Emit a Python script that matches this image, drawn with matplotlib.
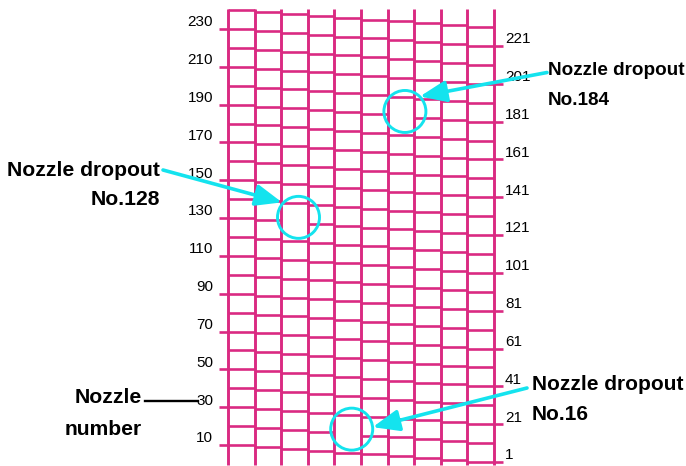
"""Nozzle check pattern with three dropped nozzles circled."""
import numpy as np

import matplotlib
matplotlib.use("Agg")
import matplotlib.pyplot as plt  # noqa: E402
from matplotlib.lines import Line2D  # noqa: E402
from matplotlib.patches import Ellipse  # noqa: E402

PINK, CYAN = "#DA2A82", "#14E3EE"
W, H = 686, 466

# 240 nozzles printed in 10 staggered columns
nozzles = np.arange(1, 241)
n_columns = 10
dropouts = [16, 128, 184]
left_ticks = [10, 30, 50, 70, 90, 110, 130, 150, 170, 190, 210, 230]
right_ticks = [1, 21, 41, 61, 81, 101, 121, 141, 161, 181, 201, 221]

# layout: pixels per column / per nozzle, where column 0 starts, nozzle 10 row
DX, DY = 26.6, 1.891
X0, Y10 = 228, 445

plt.rcParams["font.family"] = ["Liberation Sans", "DejaVu Sans"]

fig = plt.figure(figsize=(W / 100, H / 100), dpi=100)
ax = fig.add_axes([0, 0, 1, 1])
ax.set_xlim(-X0 / DX, (W - X0) / DX)
ax.set_ylim(10 - (H - Y10) / DY, 10 + Y10 / DY)
ax.axis("off")

# pattern
col = (-nozzles) % n_columns
printed = ~np.isin(nozzles, dropouts)
ax.vlines(np.arange(n_columns + 1), nozzles.min() - 1.5, nozzles.max() + 0.8,
          color=PINK, lw=2.1)
ax.hlines(nozzles[printed], col[printed], col[printed] + 1, color=PINK, lw=1.9)

# axis ticks and labels
tick = 9 / DX
ax.hlines(left_ticks, -tick, 0, color=PINK, lw=1.9)
ax.hlines(right_ticks, n_columns, n_columns + tick, color=PINK, lw=1.9)
for n in left_ticks:
    ax.text(-15 / DX, n + 1.4, str(n), ha="right", va="baseline", fontsize=11)
for n in right_ticks:
    ax.text(n_columns + 11 / DX, n + 1.4, str(n), ha="left", va="baseline",
            fontsize=11)

# circles, arrows and callouts (pixel offsets / positions)
R = 21
tip_offset = {184: (15, -15), 128: (-16.5, -15), 16: (21, -2)}
tail = {184: (547, 72.5), 128: (163, 170), 16: (527, 388)}
callout = {184: (548, "left", 75, 105, 13.6), 128: (160, "right", 176, 205, 15.2),
           16: (532, "left", 390, 420, 15.0)}
for n in dropouts:
    cx = (-n) % n_columns + 0.5 + 4 / DX
    cy = n + 4.5 / DY
    ax.add_patch(Ellipse((cx, cy), 2 * R / DX, 2 * R / DY, fill=False,
                         ec=CYAN, lw=2.1, zorder=4))
    ox, oy = tip_offset[n]
    ax.annotate("", xy=(cx + ox / DX, cy - oy / DY), xytext=(tail[n][0], H - tail[n][1]),
                textcoords="figure pixels", zorder=5,
                arrowprops=dict(arrowstyle="-|>,head_length=1.6,head_width=0.65",
                                mutation_scale=10, color=CYAN, lw=2.6,
                                shrinkA=0, shrinkB=0))
    x, ha, y1, y2, fs = callout[n]
    fig.text(x / W, 1 - y1 / H, "Nozzle dropout", ha=ha, va="baseline",
             fontsize=fs, fontweight="bold")
    fig.text(x / W, 1 - y2 / H, f"No.{n}", ha=ha, va="baseline",
             fontsize=fs, fontweight="bold")

fig.text(142 / W, 1 - 403 / H, "Nozzle", ha="right", va="baseline",
         fontsize=15.2, fontweight="bold")
fig.text(142 / W, 1 - 435 / H, "number", ha="right", va="baseline",
         fontsize=15.2, fontweight="bold")
fig.add_artist(Line2D([145 / W, 198 / W], [1 - 401 / H] * 2, color="black", lw=1.7))

fig.savefig("out.png", dpi=100)
plt.close(fig)
